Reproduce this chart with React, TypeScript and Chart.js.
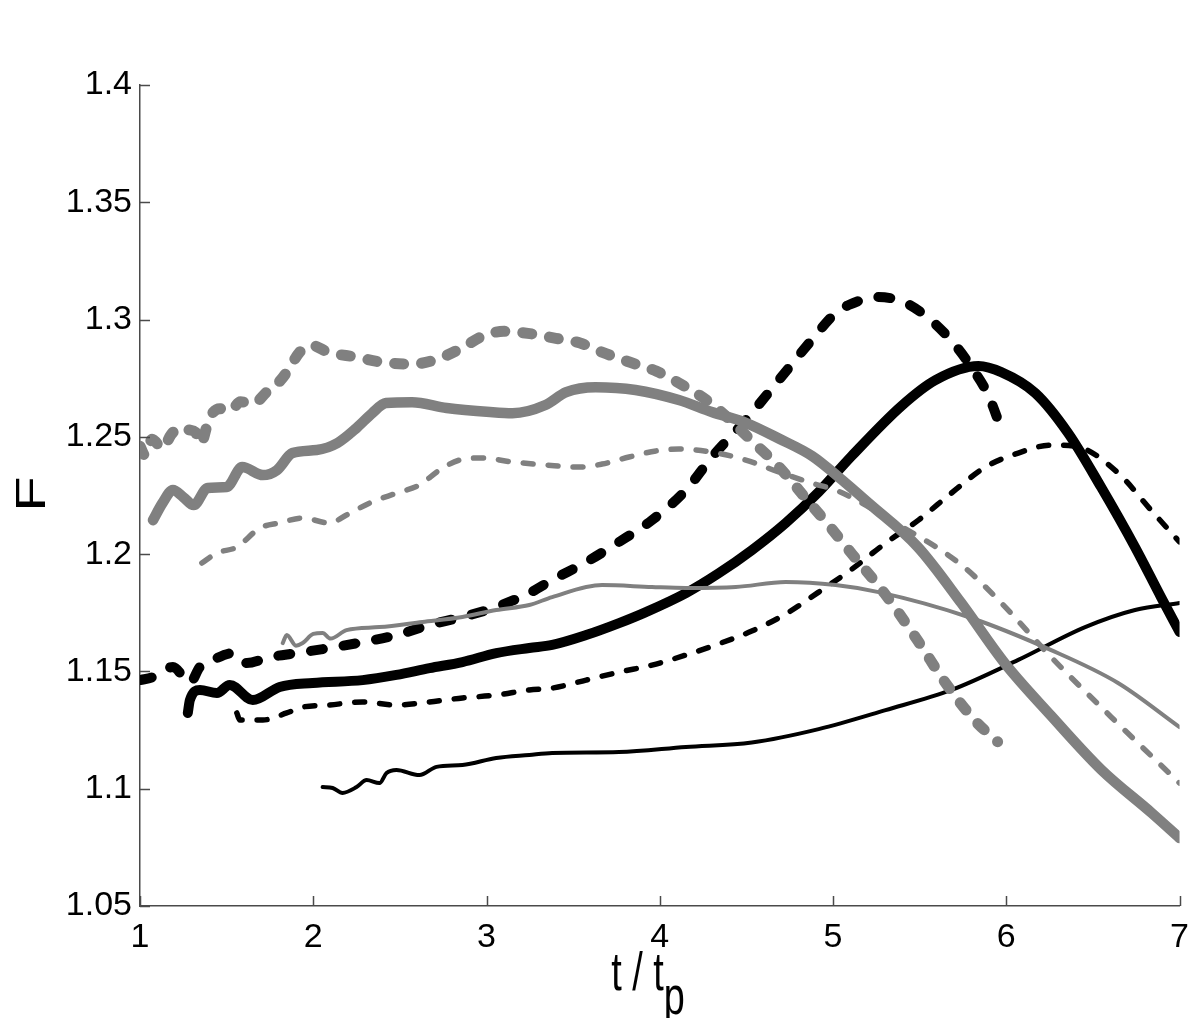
import React, { useEffect, useRef } from "react";
import { Chart, registerables } from "chart.js";

Chart.register(...registerables);

// ---- axis ticks ----
const xTickValues = [1, 2, 3, 4, 5, 6, 7];
const xTickLabels = ["1", "2", "3", "4", "5", "6", "7"];
const yTickValues = [1.05, 1.1, 1.15, 1.2, 1.25, 1.3, 1.35, 1.4];
const yTickLabels = ["1.05", "1.1", "1.15", "1.2", "1.25", "1.3", "1.35", "1.4"];

// ---- gray thick dashed ----
const grayThickDashedX = [1.0, 1.03, 1.07, 1.13, 1.18, 1.23, 1.28, 1.32, 1.35, 1.4, 1.46, 1.52, 1.58, 1.65, 1.73, 1.81, 1.86, 1.92, 1.99, 2.09, 2.25, 2.38, 2.57, 2.71, 2.86, 2.98, 3.1, 3.25, 3.4, 3.54, 3.67, 3.82, 3.98, 4.11, 4.3, 4.55, 4.69, 4.84, 4.99, 5.11, 5.3, 5.49, 5.65, 5.82, 5.95];
const grayThickDashedY = [1.246, 1.242, 1.249, 1.245, 1.251, 1.254, 1.253, 1.252, 1.247, 1.258, 1.262, 1.261, 1.265, 1.264, 1.269, 1.274, 1.279, 1.286, 1.289, 1.286, 1.284, 1.282, 1.281, 1.283, 1.288, 1.293, 1.295, 1.294, 1.292, 1.29, 1.286, 1.282, 1.278, 1.273, 1.264, 1.247, 1.237, 1.224, 1.211, 1.2, 1.183, 1.163, 1.145, 1.129, 1.12];

// ---- gray thick solid ----
const grayThickSolidX = [1.075, 1.13, 1.19, 1.25, 1.31, 1.39, 1.5, 1.59, 1.71, 1.79, 1.88, 2.02, 2.14, 2.25, 2.34, 2.42, 2.57, 2.77, 3.02, 3.15, 3.34, 3.46, 3.63, 3.86, 4.11, 4.3, 4.5, 4.69, 4.88, 5.03, 5.21, 5.49, 5.74, 5.99, 6.26, 6.55, 6.84, 7.0];
const grayThickSolidY = [1.2145, 1.2218, 1.2273, 1.2243, 1.2209, 1.2282, 1.2286, 1.2371, 1.2337, 1.2358, 1.2431, 1.2444, 1.2474, 1.2538, 1.2601, 1.2644, 1.2648, 1.2623, 1.2606, 1.2601, 1.2636, 1.2691, 1.2712, 1.27, 1.2657, 1.2606, 1.2559, 1.2492, 1.2418, 1.233, 1.2215, 1.203, 1.1792, 1.1536, 1.131, 1.108, 1.0896, 1.079];

// ---- gray medium dashed ----
const grayMediumDashedX = [1.357, 1.444, 1.559, 1.691, 1.806, 1.939, 2.094, 2.192, 2.325, 2.48, 2.613, 2.728, 2.843, 2.976, 3.149, 3.344, 3.535, 3.667, 3.823, 3.978, 4.111, 4.301, 4.497, 4.687, 4.877, 5.032, 5.361, 5.741, 5.971, 6.259, 6.605, 7.0];
const grayMediumDashedY = [1.1962, 1.2005, 1.203, 1.2111, 1.2133, 1.2154, 1.2133, 1.2167, 1.2218, 1.226, 1.2295, 1.2358, 1.2401, 1.241, 1.2393, 1.238, 1.2371, 1.2384, 1.2414, 1.244, 1.2448, 1.2435, 1.2401, 1.235, 1.2303, 1.2268, 1.2133, 1.1954, 1.1792, 1.1561, 1.1306, 1.1024];

// ---- gray thin solid ----
const grayThinSolidX = [1.824, 1.847, 1.9, 1.939, 2.0, 2.054, 2.1, 2.192, 2.382, 2.63, 2.861, 3.056, 3.247, 3.379, 3.667, 3.955, 4.151, 4.439, 4.727, 5.015, 5.263, 5.781, 6.259, 6.645, 7.0];
const grayThinSolidY = [1.1621, 1.1655, 1.161, 1.1621, 1.166, 1.1664, 1.164, 1.1676, 1.1689, 1.1711, 1.1732, 1.1762, 1.1783, 1.1817, 1.1868, 1.186, 1.1856, 1.186, 1.1881, 1.1868, 1.1838, 1.1732, 1.1591, 1.1451, 1.1263];

// ---- black thick dashed ----
const blackThickDashedX = [1.0, 1.075, 1.19, 1.288, 1.346, 1.42, 1.536, 1.616, 1.749, 1.904, 2.094, 2.285, 2.48, 2.671, 2.861, 3.056, 3.247, 3.379, 3.575, 3.765, 3.955, 4.151, 4.301, 4.497, 4.687, 4.877, 5.015, 5.09, 5.263, 5.407, 5.551, 5.695, 5.81, 5.896, 5.983];
const blackThickDashedY = [1.1463, 1.1476, 1.1519, 1.1451, 1.1519, 1.1549, 1.1578, 1.1536, 1.1561, 1.1578, 1.16, 1.1625, 1.1655, 1.1698, 1.1732, 1.1775, 1.1834, 1.189, 1.1966, 1.2052, 1.2145, 1.2273, 1.2414, 1.2572, 1.2742, 1.2913, 1.3028, 1.3062, 1.3096, 1.3075, 1.3006, 1.29, 1.2785, 1.2678, 1.2508];

// ---- black thick solid ----
const blackThickSolidX = [1.276, 1.288, 1.346, 1.444, 1.518, 1.651, 1.806, 1.997, 2.285, 2.48, 2.671, 2.861, 3.056, 3.247, 3.379, 3.575, 3.765, 3.92, 4.151, 4.341, 4.531, 4.727, 4.917, 5.107, 5.395, 5.591, 5.839, 5.971, 6.167, 6.357, 6.547, 6.743, 6.893, 7.0];
const blackThickSolidY = [1.1323, 1.1378, 1.1421, 1.1408, 1.1442, 1.1378, 1.1434, 1.1451, 1.1463, 1.1485, 1.1514, 1.154, 1.1578, 1.16, 1.1613, 1.1655, 1.1706, 1.1753, 1.1834, 1.1919, 1.2017, 1.2133, 1.2265, 1.2418, 1.2632, 1.2742, 1.2802, 1.2776, 1.2687, 1.2516, 1.2286, 1.203, 1.1817, 1.1668];

// ---- black medium dashed ----
const blackMediumDashedX = [1.559, 1.576, 1.709, 1.847, 1.939, 2.094, 2.285, 2.48, 2.671, 2.861, 3.056, 3.247, 3.379, 3.575, 3.765, 3.955, 4.151, 4.341, 4.531, 4.727, 4.917, 5.107, 5.303, 5.493, 5.683, 5.879, 6.069, 6.259, 6.415, 6.645, 6.835, 7.0];
const blackMediumDashedY = [1.1323, 1.1293, 1.1293, 1.1323, 1.1348, 1.1357, 1.137, 1.1357, 1.137, 1.1387, 1.1399, 1.1421, 1.1429, 1.1463, 1.1497, 1.1527, 1.157, 1.1618, 1.1672, 1.1745, 1.1838, 1.1935, 1.2047, 1.2145, 1.226, 1.2371, 1.2431, 1.2465, 1.2457, 1.2346, 1.2188, 1.2052];

// ---- black thin solid ----
const blackThinSolidX = [2.054, 2.112, 2.169, 2.25, 2.308, 2.382, 2.423, 2.48, 2.613, 2.711, 2.861, 3.056, 3.247, 3.379, 3.765, 4.151, 4.531, 4.917, 5.303, 5.683, 6.069, 6.455, 6.743, 7.0];
const blackThinSolidY = [1.1007, 1.1003, 1.0982, 1.1007, 1.1037, 1.1024, 1.1067, 1.108, 1.1058, 1.1093, 1.1101, 1.1131, 1.1144, 1.1152, 1.1156, 1.1178, 1.1197, 1.1254, 1.1335, 1.1421, 1.1549, 1.1689, 1.1762, 1.1792];

const GRAY = "#808080";
const BLACK = "#000000";

function pts(xs: number[], ys: number[]) {
  return xs.map((x, i) => ({ x, y: ys[i] }));
}

function series(xs: number[], ys: number[], color: string, width: number, dash: number[], order: number) {
  return {
    data: pts(xs, ys),
    borderColor: color,
    backgroundColor: color,
    borderWidth: width,
    borderDash: dash,
    borderCapStyle: "round" as const,
    borderJoinStyle: "round" as const,
    pointRadius: 0,
    showLine: true,
    fill: false,
    cubicInterpolationMode: "monotone" as const,
    order,
  };
}

const AXIS_COLOR = "#4a4a4a";
const FONT = '"Liberation Sans", Arial, Helvetica, sans-serif';

const decorPlugin = {
  id: "decor",
  afterDraw(chart: any) {
    const { ctx, chartArea: ca, scales } = chart;
    const xs = scales.x;
    const ys = scales.y;
    ctx.save();
    ctx.strokeStyle = AXIS_COLOR;
    ctx.lineWidth = 1.5;
    xTickValues.forEach((v) => {
      const px = Math.round(xs.getPixelForValue(v)) + 0.5;
      ctx.beginPath();
      ctx.moveTo(px, ca.bottom);
      ctx.lineTo(px, ca.bottom - 10);
      ctx.stroke();
    });
    yTickValues.forEach((v) => {
      const py = Math.round(ys.getPixelForValue(v)) + 0.5;
      ctx.beginPath();
      ctx.moveTo(ca.left, py);
      ctx.lineTo(ca.left + 10, py);
      ctx.stroke();
    });
    ctx.restore();

    // x axis title: t / t_p
    ctx.save();
    ctx.fillStyle = "#000";
    ctx.font = "54px " + FONT;
    ctx.textBaseline = "alphabetic";
    ctx.textAlign = "left";
    const main = "t / t";
    const sub = "p";
    const w1 = ctx.measureText(main).width;
    const w2 = ctx.measureText(sub).width;
    const sx = 0.7;
    const total = (w1 + w2) * sx;
    ctx.translate(648 - total / 2, 0);
    ctx.scale(sx, 1);
    ctx.fillText(main, 0, 990);
    ctx.fillText(sub, w1, 1014);
    ctx.restore();

    // y axis title: F
    ctx.save();
    ctx.fillStyle = "#000";
    ctx.font = "58px " + FONT;
    ctx.textBaseline = "alphabetic";
    ctx.textAlign = "center";
    ctx.translate(45, 494);
    ctx.scale(0.72, 1);
    ctx.rotate(-Math.PI / 2);
    ctx.fillText("F", 0, 0);
    ctx.restore();
  },
};

export default function App() {
  const ref = useRef<HTMLCanvasElement | null>(null);

  useEffect(() => {
    if (!ref.current) return;
    const chart = new Chart(ref.current, {
      type: "scatter",
      data: {
        datasets: [
          series(grayThickDashedX, grayThickDashedY, GRAY, 11, [9, 18], 0),
          series(grayThickSolidX, grayThickSolidY, GRAY, 10.5, [], 0),
          series(grayMediumDashedX, grayMediumDashedY, GRAY, 5.5, [10, 15], 0),
          series(grayThinSolidX, grayThinSolidY, GRAY, 4, [], 0),
          series(blackThickDashedX, blackThickDashedY, BLACK, 10, [12, 21], 1),
          series(blackThickSolidX, blackThickSolidY, BLACK, 10, [], 1),
          series(blackMediumDashedX, blackMediumDashedY, BLACK, 5.5, [10, 15], 1),
          series(blackThinSolidX, blackThinSolidY, BLACK, 4, [], 1),
        ] as any,
      },
      options: {
        animation: false,
        responsive: false,
        maintainAspectRatio: false,
        layout: { padding: { top: 85, right: 18, left: 0, bottom: 0 } },
        plugins: {
          legend: { display: false },
          tooltip: { enabled: false },
        },
        scales: {
          x: {
            type: "linear",
            min: 1,
            max: 7,
            afterBuildTicks: (scale: any) => {
              scale.ticks = xTickValues.map((v) => ({ value: v }));
            },
            afterFit: (scale: any) => {
              scale.height = 112;
            },
            ticks: {
              font: { size: 34, family: FONT },
              color: "#000",
              padding: 11,
              maxRotation: 0,
              autoSkip: false,
              callback: (v: any) => {
                const i = xTickValues.indexOf(Number(v));
                return i >= 0 ? xTickLabels[i] : "";
              },
            },
            grid: { display: true, drawOnChartArea: false, drawTicks: false },
            border: { display: true, color: AXIS_COLOR, width: 1.5 },
          },
          y: {
            type: "linear",
            min: 1.05,
            max: 1.4,
            afterBuildTicks: (scale: any) => {
              scale.ticks = yTickValues.map((v) => ({ value: v }));
            },
            afterFit: (scale: any) => {
              scale.width = 140;
            },
            ticks: {
              font: { size: 34, family: FONT },
              color: "#000",
              padding: 8,
              autoSkip: false,
              callback: (v: any) => {
                const i = yTickValues.findIndex((t) => Math.abs(t - Number(v)) < 1e-6);
                return i >= 0 ? yTickLabels[i] : "";
              },
            },
            grid: { display: true, drawOnChartArea: false, drawTicks: false },
            border: { display: true, color: AXIS_COLOR, width: 1.5 },
          },
        },
      },
      plugins: [decorPlugin],
    });
    return () => chart.destroy();
  }, []);

  return (
    <div style={{ position: "absolute", left: 0, top: 0, width: 1200, height: 1018, background: "#fff" }}>
      <canvas ref={ref} width={1200} height={1018} style={{ width: 1200, height: 1018, display: "block" }} />
    </div>
  );
}
